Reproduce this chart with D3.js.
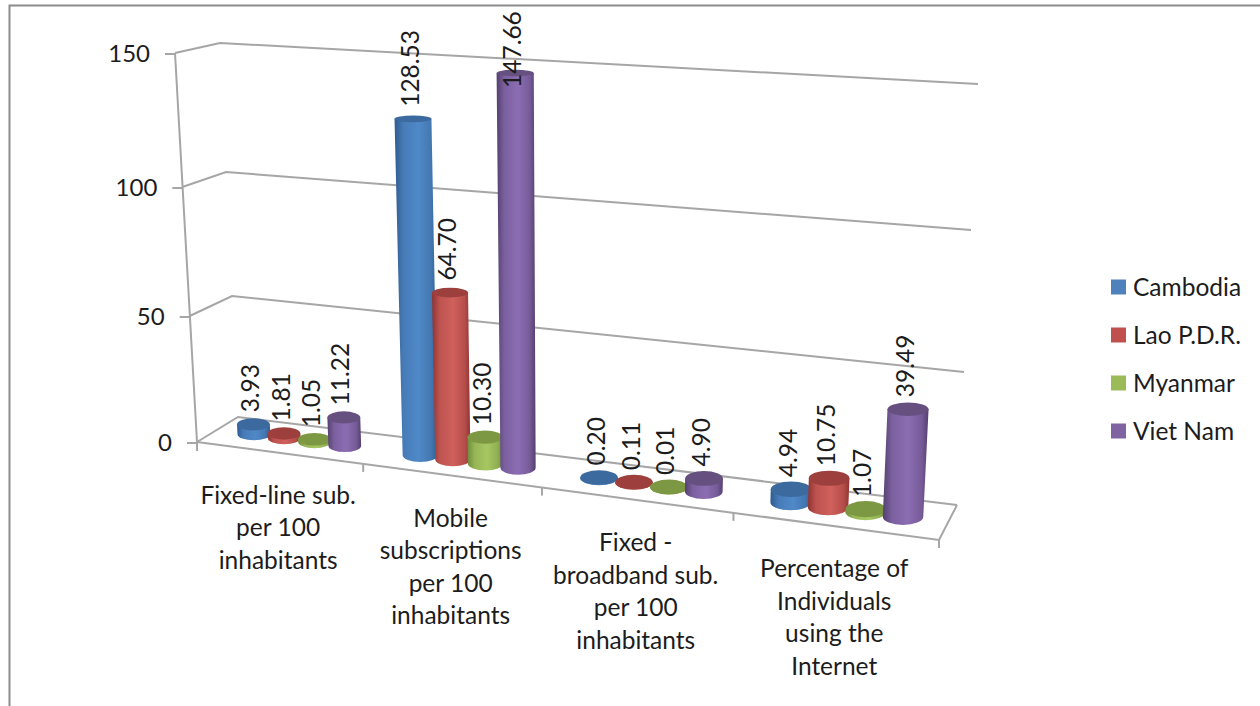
<!DOCTYPE html>
<html>
<head>
<meta charset="utf-8">
<script src="https://cdn.jsdelivr.net/npm/d3@7"></script>
<style>
  html, body { margin: 0; padding: 0; background: #fff; }
  text { font-family: Lato, "Open Sans", sans-serif; fill: #1c1c1c; }
</style>
</head>
<body>
<div id="chart"></div>
<script>
// Values
const categories = [
  ["Fixed-line sub.", "per 100", "inhabitants"],
  ["Mobile", "subscriptions", "per 100", "inhabitants"],
  ["Fixed -", "broadband sub.", "per 100", "inhabitants"],
  ["Percentage of", "Individuals", "using the", "Internet"]
];
const seriesNames = ["Cambodia", "Lao P.D.R.", "Myanmar", "Viet Nam"];
const cambodia = [3.93, 128.53, 0.20, 4.94];
const lao = [1.81, 64.70, 0.11, 10.75];
const myanmar = [1.05, 10.30, 0.01, 1.07];
const vietnam = [11.22, 147.66, 4.90, 39.49];
const seriesValues = [cambodia, lao, myanmar, vietnam];
const yTicks = [0, 50, 100, 150];

const sideDark = ["#2f5b8f", "#8f3432", "#6f8a3a", "#54406f"];
const sideLight = ["#5089c8", "#d0605c", "#a6c862", "#8c6db3"];
const topColor = ["#3c6a9f", "#9d403d", "#7c9842", "#66507f"];
const legendColor = ["#4f81bd", "#c0504d", "#9bbb59", "#8064a2"];

const width = 1260, height = 706;
const fontSize = "24.5px";

const svg = d3.select("#chart").append("svg")
    .attr("width", width)
    .attr("height", height)
    .style("display", "block");

// Outer frame, only top and left are in the crop
svg.append("path")
    .attr("d", `M9.5,${height} V5.5 H${width}`)
    .attr("fill", "none")
    .attr("stroke", "#8c8c8c")
    .attr("stroke-width", 2);

// The 3D box is given by its four upright edges, each with its own value scale
function edge(x0, x1, ys) {
  return {
    x: d3.scaleLinear().domain([0, 150]).range([x0, x1]),
    y: d3.scaleLinear().domain(yTicks).range(ys)
  };
}
const frontLeft = edge(197, 175, [442, 316, 187, 53]);
const backLeft = edge(238, 220, [417, 296, 172, 43]);
const backRight = edge(957, 978, [505, 372, 230, 84]);
const frontRight = edge(939, 961, [540, 399, 250, 102]);

// Category position along the floor, widens to the right because of perspective
const uScale = d3.scaleLinear().domain([0, 1, 2, 3, 4]).range([0, 0.224, 0.465, 0.723, 1]);
const band = d3.scaleBand().domain(d3.range(seriesNames.length)).range([0, 1]).paddingInner(0).paddingOuter(0.7);
const columnDepth = 0.5;

// t along the width, d from front (0) to back (1), v the value
function project(t, d, v) {
  const lerp = (a, b, k) => a + (b - a) * k;
  const fx = lerp(frontLeft.x(v), frontRight.x(v), t), fy = lerp(frontLeft.y(v), frontRight.y(v), t);
  const bx = lerp(backLeft.x(v), backRight.x(v), t), by = lerp(backLeft.y(v), backRight.y(v), t);
  return [lerp(fx, bx, d), lerp(fy, by, d)];
}

const defs = svg.append("defs");
seriesNames.forEach(function(name, i) {
  const grad = defs.append("linearGradient").attr("id", "side" + i);
  grad.append("stop").attr("offset", "0").attr("stop-color", sideDark[i]);
  grad.append("stop").attr("offset", "0.2").attr("stop-color", d3.interpolateRgb(sideDark[i], sideLight[i])(0.7));
  grad.append("stop").attr("offset", "0.55").attr("stop-color", sideLight[i]);
  grad.append("stop").attr("offset", "0.85").attr("stop-color", d3.interpolateRgb(sideDark[i], sideLight[i])(0.6));
  grad.append("stop").attr("offset", "1").attr("stop-color", sideDark[i]);
});

// Grid lines on the back and left walls, plus the floor edges
const gridColor = "#a6a6a6";
const grid = svg.append("g")
    .attr("fill", "none")
    .attr("stroke", gridColor)
    .attr("stroke-width", 2);
const line = d3.line();

grid.selectAll(".wall")
    .data(yTicks)
    .enter()
    .append("path")
        .attr("d", d => line([project(0, 0, d), project(0, 1, d), project(1, 1, d)]));

grid.append("path").attr("d", line([project(0, 0, 0), project(1, 0, 0), project(1, 1, 0)]));
grid.append("path").attr("d", line([project(0, 0, 150), project(0, 0, 0), [project(0, 0, 0)[0], project(0, 0, 0)[1] + 9]]));

// Category tick marks below the front floor edge
grid.selectAll(".cat-tick")
    .data(d3.range(1, categories.length + 1))
    .enter()
    .append("path")
        .attr("d", function(d) {
          const p = project(uScale(d), 0, 0);
          return line([p, [p[0], p[1] + 8]]);
        });

// Value axis: a normal left axis, then every tick is slid onto the leaning edge
const yAxis = svg.append("g")
    .call(d3.axisLeft(frontLeft.y).tickValues(yTicks).tickSize(10).tickPadding(15).tickFormat(d3.format("d")));
yAxis.select(".domain").remove();
yAxis.selectAll(".tick")
    .attr("transform", d => `translate(${project(0, 0, d)[0]},${project(0, 0, d)[1] + 1})`);
yAxis.selectAll(".tick line").attr("stroke", gridColor).attr("stroke-width", 2);
yAxis.selectAll(".tick text").style("font-size", "24px").style("font-family", "Lato");

// Columns
const columnData = [];
categories.forEach(function(cat, c) {
  seriesNames.forEach(function(name, s) {
    const u = c + band(s) + band.bandwidth() / 2;
    columnData.push({cat: c, series: s, u: u, value: seriesValues[s][c]});
  });
});

const columns = svg.append("g")
    .selectAll("g")
    .data(columnData)
    .enter()
    .append("g");

function radii(d, v) {
  const t = uScale(d.u);
  const rx = (project(uScale(d.u + band.step() * 0.54), columnDepth, v)[0] - project(uScale(d.u - band.step() * 0.54), columnDepth, v)[0]) / 2;
  const ry = (project(t, 0, v)[1] - project(t, 1, v)[1]) * 0.24;
  return [rx, ry];
}

columns.append("path")
    .attr("fill", d => `url(#side${d.series})`)
    .attr("d", function(d) {
      const t = uScale(d.u);
      const base = project(t, columnDepth, 0), top = project(t, columnDepth, d.value);
      const rb = radii(d, 0), rt = radii(d, d.value);
      return `M${top[0] - rt[0]},${top[1]} L${base[0] - rb[0]},${base[1]} ` +
             `A${rb[0]},${rb[1]} 0 0 0 ${base[0] + rb[0]},${base[1]} L${top[0] + rt[0]},${top[1]} Z`;
    });

columns.append("ellipse")
    .attr("fill", d => topColor[d.series])
    .attr("cx", d => project(uScale(d.u), columnDepth, d.value)[0])
    .attr("cy", d => project(uScale(d.u), columnDepth, d.value)[1])
    .attr("rx", d => radii(d, d.value)[0])
    .attr("ry", d => radii(d, d.value)[1]);

// Data labels, the tallest one is pushed back down so it stays inside the chart
const labelTop = 88;
svg.append("g")
    .selectAll("text")
    .data(columnData)
    .enter()
    .append("text")
        .attr("transform", function(d) {
          const p = project(uScale(d.u), columnDepth, d.value);
          return `translate(${p[0] - 3},${Math.max(p[1] - 12, labelTop)}) rotate(-90)`;
        })
        .attr("dy", "0.35em")
        .style("font-size", fontSize)
        .text(d => d.value.toFixed(2));

// Category labels under the floor
const catLabels = svg.append("g")
    .selectAll("text")
    .data(categories)
    .enter()
    .append("text")
        .attr("text-anchor", "middle")
        .style("font-size", fontSize)
        .attr("transform", function(d, i) {
          const p = project(uScale(i + 0.5), 0, 0);
          return `translate(${p[0] - 2},${p[1] + 51})`;
        });
catLabels.selectAll("tspan")
    .data(d => d)
    .enter()
    .append("tspan")
        .attr("x", 0)
        .attr("y", (d, i) => i * 32.5)
        .text(d => d);

// Legend
const legendY = d3.scalePoint().domain(seriesNames).range([287, 431]);
const legend = svg.append("g")
    .selectAll("g")
    .data(seriesNames)
    .enter()
    .append("g")
        .attr("transform", d => `translate(1111,${legendY(d)})`);
legend.append("rect")
    .attr("y", -7.5)
    .attr("width", 15)
    .attr("height", 15)
    .attr("fill", (d, i) => legendColor[i]);
legend.append("text")
    .attr("x", 22)
    .attr("dy", "0.35em")
    .style("font-size", fontSize)
    .text(d => d);
</script>
</body>
</html>
